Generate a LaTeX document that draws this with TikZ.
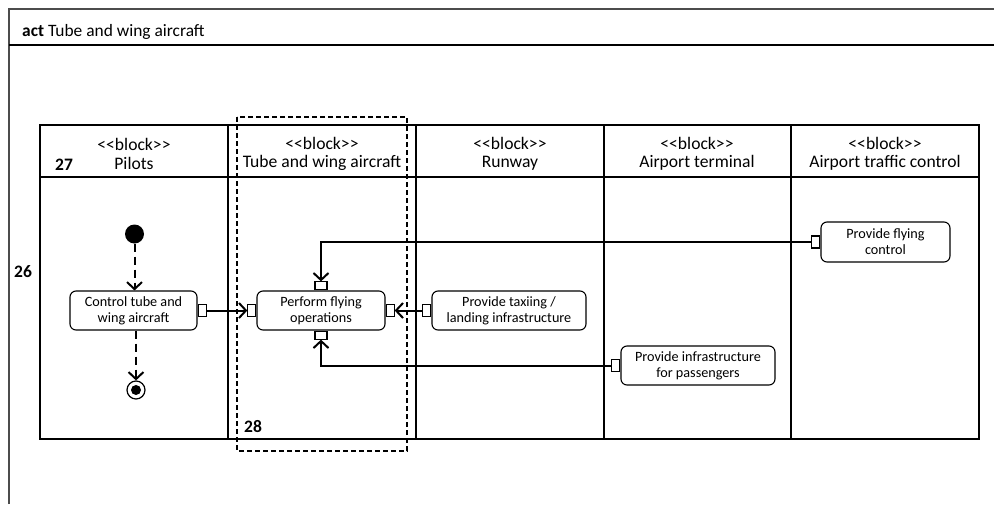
\documentclass[tikz,border=0pt]{standalone}
\usepackage{fontspec}
\setmainfont{Carlito}
\usetikzlibrary{arrows.meta,positioning}
\newcommand{\stereo}[1]{<\kern0pt<#1>\kern0pt>}

\begin{document}
\begin{tikzpicture}[x=1pt, y=-1pt,
  frame/.style={draw=black!70, line width=1.4pt},
  lane/.style={draw, line width=1.3pt},
  action/.style={draw, rounded corners=6pt, line width=1.1pt, align=center, inner sep=1pt,
    minimum height=39pt, font=\fontsize{14.2}{15.8}\selectfont},
  pinh/.style={draw, fill=white, line width=1.1pt, minimum width=8pt, minimum height=12pt, inner sep=0pt},
  pinv/.style={pinh, minimum width=12pt, minimum height=8pt},
  flow/.style={line width=2pt, -{Straight Barb[length=7pt,width=15pt]}},
  ctlflow/.style={flow, dash pattern=on 8pt off 5pt},
  head/.style={align=center, font=\fontsize{17.6}{18.5}\selectfont},
  num/.style={font=\bfseries\fontsize{17.5}{20}\selectfont}]
\useasboundingbox (0,0) rectangle (994,504);

\draw[frame] (9,504) -- (9,9) -- (994,9);
\draw[line width=2pt] (9,45) -- (994,45);
\node[anchor=base west, inner sep=0pt, font=\fontsize{17.4}{18.5}\selectfont] (title) at (22,36)
  {\textbf{act} Tube and wing aircraft};

\draw[lane] (40,125) rectangle (979,439);
\draw[lane] (40,177) -- (979,177);
\foreach \x in {228,416,604,791}
  \draw[lane] (\x,125) -- (\x,439);
\draw[line width=1.1pt, dash pattern=on 5pt off 3pt] (237,117) rectangle (407,451);

\node[head] (hpilots) at (134,154) {\stereo{block}\\Pilots};
\node[head] (haircraft) at (322,154) {\stereo{block}\\Tube and wing aircraft};
\node[head] (hrunway) at (510,154) {\stereo{block}\\Runway};
\node[head] (hterminal) at (697,154) {\stereo{block}\\Airport terminal};
\node[head] (hatc) at (885,154) {\stereo{block}\\Airport traffic control};

\node[num] (n27) at (64,165) {27};
\node[num] (n26) at (23,272) {26};
\node[num] (n28) at (253,427) {28};

\node[circle, fill, minimum size=19pt, inner sep=0pt] (start) at (134.5,234) {};
\node[action, minimum width=127pt] (ctrlac) at (133.5,310.5) {Control tube and\\wing aircraft};
\node[circle, draw, line width=1.2pt, minimum size=18pt, inner sep=0pt] (stop) at (136,390) {};
\node[circle, fill, minimum size=10pt, inner sep=0pt] (stopdot) at (stop) {};

\node[action, minimum width=128pt] (flyops) at (321,310.5) {Perform flying\\operations};
\node[action, minimum width=154pt] (taxiland) at (509,310.5) {Provide taxiing /\\landing infrastructure};
\node[action, minimum width=154pt] (paxinfra) at (698,365.5) {Provide infrastructure\\for passengers};
\node[action, minimum width=129pt, minimum height=40pt] (flyctl) at (885.5,242) {Provide flying\\control};

\node[pinh, right=0pt of ctrlac] (ctrlac-out) {};
\node[pinh, left=0pt of flyops] (flyops-in) {};
\node[pinh, right=0pt of flyops] (flyops-east) {};
\node[pinv, above=0pt of flyops] (flyops-top) {};
\node[pinv, below=0pt of flyops] (flyops-bot) {};
\node[pinh, left=0pt of taxiland] (taxiland-out) {};
\node[pinh, left=0pt of paxinfra] (paxinfra-out) {};
\node[pinh, left=0pt of flyctl] (flyctl-out) {};

\draw[ctlflow] (start) -- (start |- ctrlac.north);
\draw[ctlflow] (ctrlac.south -| stop) -- (stop);
\draw[flow] (ctrlac-out) -- (flyops-in);
\draw[flow] (taxiland-out) -- (flyops-east);
\draw[flow] (flyctl-out.west) -| (flyops-top.north);
\draw[flow] (paxinfra-out.west) -| (flyops-bot.south);
\end{tikzpicture}
\end{document}
